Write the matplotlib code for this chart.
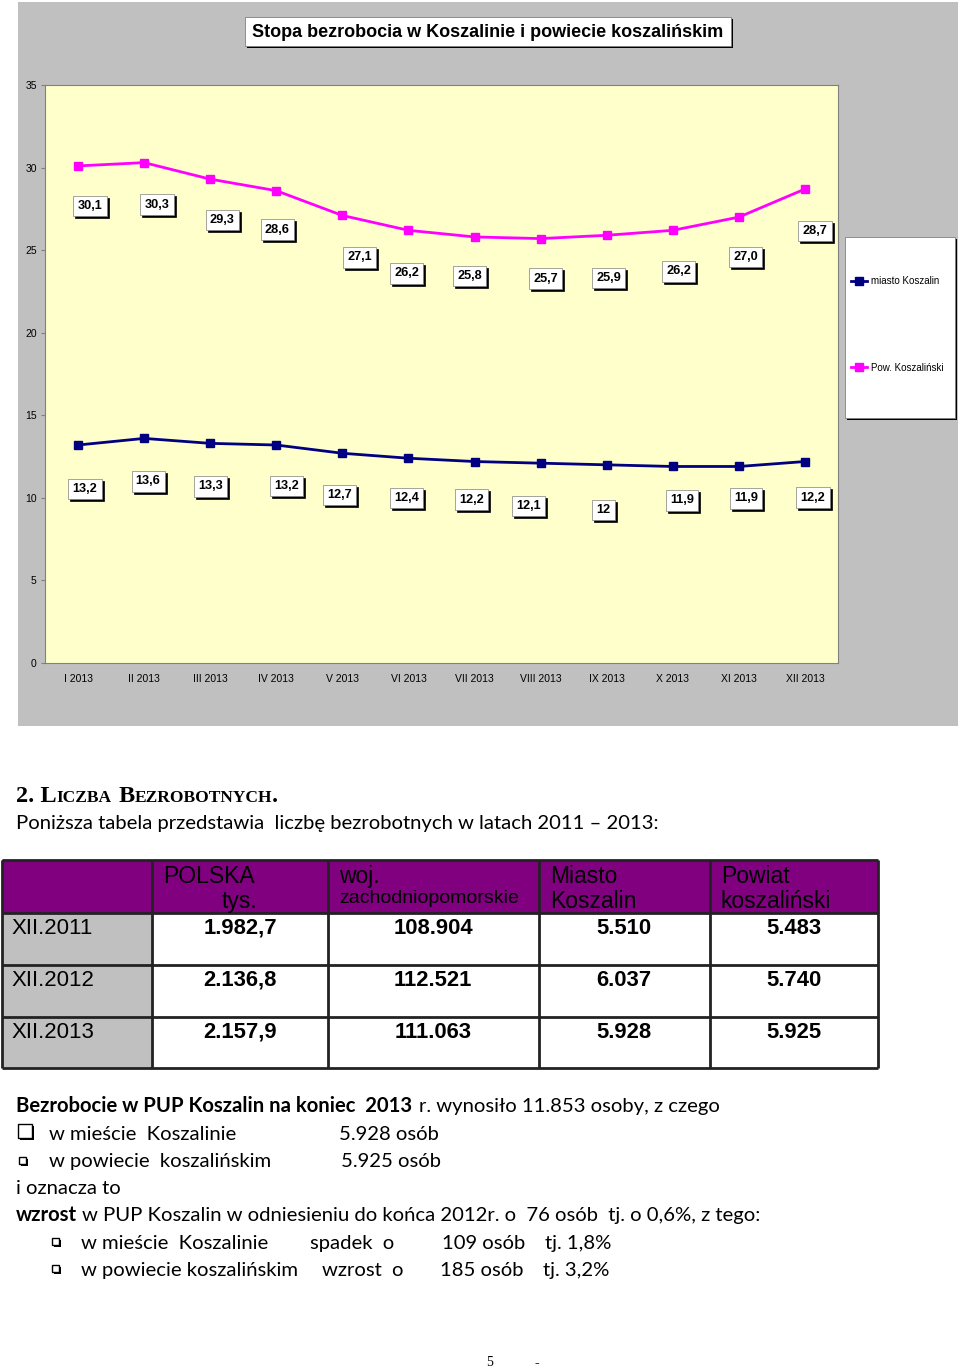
import matplotlib
matplotlib.use("Agg")
import matplotlib.pyplot as plt
from matplotlib.patches import Rectangle
import numpy as np

# chart data
months = ["I 2013", "II 2013", "III 2013", "IV 2013", "V 2013", "VI 2013",
          "VII 2013", "VIII 2013", "IX 2013", "X 2013", "XI 2013", "XII 2013"]
powiat = [30.1, 30.3, 29.3, 28.6, 27.1, 26.2, 25.8, 25.7, 25.9, 26.2, 27.0, 28.7]
miasto = [13.2, 13.6, 13.3, 13.2, 12.7, 12.4, 12.2, 12.1, 12, 11.9, 11.9, 12.2]

# table data
row_labels = ["XII.2011", "XII.2012", "XII.2013"]
polska = ["1.982,7", "2.136,8", "2.157,9"]
woj = ["108.904", "112.521", "111.063"]
miasto_n = ["5.510", "6.037", "5.928"]
powiat_n = ["5.483", "5.740", "5.925"]

# label offsets in pixels (dx, dy down) - placement only
pow_off = [(12, 40), (13, 42), (12, 41), (1, 39), (17, 42), (-2, 43),
           (-5, 39), (5, 40), (2, 43), (6, 41), (7, 40), (10, 42)]
mia_off = [(7, 44), (4, 43), (0, 43), (10, 41), (-3, 42), (-2, 40),
           (-3, 38), (-12, 43), (-3, 45), (9, 34), (7, 32), (8, 36)]

W, H = 960, 1370
SANS = "Liberation Sans"
BODY = "Lato"

fig = plt.figure(figsize=(9.6, 13.7), dpi=100)
page = fig.add_axes([0, 0, 1, 1])
page.set_xlim(0, W)
page.set_ylim(H, 0)
page.axis("off")

# chart background
page.add_patch(Rectangle((18, 2), 940, 724, fc="#c0c0c0", ec="none"))

# title box with shadow
page.add_patch(Rectangle((247, 19), 486, 29, fc="black", ec="none"))
page.add_patch(Rectangle((245, 17), 486, 29, fc="white", ec="#808080", lw=0.6))
page.text(488, 32, "Stopa bezrobocia w Koszalinie i powiecie koszalińskim",
          ha="center", va="center", fontsize=13, fontweight="bold", family=SANS)

# legend box with shadow
page.add_patch(Rectangle((847, 239), 110, 181, fc="black", ec="none"))
page.add_patch(Rectangle((845, 237), 110, 181, fc="white", ec="#808080", lw=0.6))

ax = fig.add_axes([45 / W, 1 - 663 / H, 793 / W, 578 / H])
ax.set_facecolor("#ffffcc")
x = np.arange(len(months))
l_pow, = ax.plot(x, powiat, color="#ff00ff", lw=2, marker="s", ms=6,
                 label="Pow. Koszaliński")
l_mia, = ax.plot(x, miasto, color="#000080", lw=2, marker="s", ms=6,
                 label="miasto Koszalin")
ax.set_xlim(-0.5, 11.5)
ax.set_ylim(0, 35)
ax.set_yticks(range(0, 36, 5))
ax.set_xticks(x, months)
ax.tick_params(length=3, color="#808080", pad=3, labelsize=7.5)
ax.tick_params(axis="x", length=0, pad=8)
for lab in ax.get_xticklabels() + ax.get_yticklabels():
    lab.set_family(SANS)
for sp in ax.spines.values():
    sp.set_color("#808080")
    sp.set_linewidth(0.8)


def boxed(xi, v, off):
    txt = str(v).replace(".", ",")
    dx, dy = off
    for sh, fc in ((2, "black"), (0, "white")):
        ax.annotate(txt, (xi, v), xytext=(dx + sh, -dy - sh),
                    textcoords="offset pixels", ha="center", va="center",
                    fontsize=9.2, fontweight="bold", family=SANS,
                    color="black", annotation_clip=False,
                    bbox=dict(boxstyle="square,pad=0.33", fc=fc,
                              ec="#808080" if fc == "white" else "black", lw=0.5))


for xi, v, o in zip(x, powiat, pow_off):
    boxed(xi, v, o)
for xi, v, o in zip(x, miasto, mia_off):
    boxed(xi, v, o)

leg = ax.legend(handles=[l_mia, l_pow], loc="upper left",
                bbox_to_anchor=(851, 276), bbox_transform=page.transData,
                frameon=False, labelspacing=7.9, borderpad=0,
                handlelength=1.6, handletextpad=0.5, borderaxespad=0,
                prop={"family": SANS, "size": 7})

# section heading with small caps
hx = 16
heading = [("2. L", 17.5), ("ICZBA", 12.5), (" ", 8), ("B", 17.5), ("EZROBOTNYCH", 12.5), (".", 17.5)]
renderer = fig.canvas.get_renderer()
for txt, fs in heading:
    if txt == " ":
        hx += 7
        continue
    t = page.text(hx, 802, txt, fontsize=fs, fontweight="bold",
                  family="Liberation Serif", va="baseline", ha="left")
    hx += t.get_window_extent(renderer).width

page.text(16, 829, "Poniższa tabela przedstawia  liczbę bezrobotnych w latach 2011 – 2013:",
          fontsize=14.6, family=BODY, va="baseline")

# table
ys = [860, 913, 965, 1017, 1068]
xs = [2, 152, 328, 539, 710, 878]
page.add_patch(Rectangle((xs[0], ys[0]), xs[-1] - xs[0], ys[1] - ys[0], fc="#800080", ec="none"))
page.add_patch(Rectangle((xs[0], ys[1]), xs[1] - xs[0], ys[-1] - ys[1], fc="#c0c0c0", ec="none"))
page.hlines(ys, xs[0], xs[-1], color="#222222", lw=2)
page.vlines(xs, ys[0], ys[-1], color="#222222", lw=2)

hdr = dict(fontsize=16.5, family=SANS, va="center", ha="left", color="black")
page.text(163, 876, "POLSKA", **hdr)
page.text(222, 901, "tys.", **hdr)
page.text(339, 876, "woj.", **hdr)
page.text(339, 898, "zachodniopomorskie", fontsize=14, family=SANS, va="center", color="black")
page.text(550, 876, "Miasto", **hdr)
page.text(550, 901, "Koszalin", **hdr)
page.text(721, 876, "Powiat", **hdr)
page.text(721, 901, "koszaliński", **hdr)

centers = [240, 433, 624, 794]
for i, lab in enumerate(row_labels):
    yc = 928 + 52 * i
    page.text(12, yc, lab, fontsize=16, family=SANS, va="center")
    for cx, col in zip(centers, [polska, woj, miasto_n, powiat_n]):
        page.text(cx, yc, col[i], fontsize=15.8, fontweight="bold", family=SANS,
                  va="center", ha="center")

# text block
body = dict(fontsize=14.6, family=BODY, va="baseline")
page.text(16, 1112, "Bezrobocie w PUP Koszalin na koniec  2013", fontweight="bold", **body)
page.text(419, 1112, "r. wynosiło 11.853 osoby, z czego", **body)


def bullet(x0, y0, s):
    page.add_patch(Rectangle((x0 + 2, y0 + 2), s, s, fc="black", ec="none"))
    page.add_patch(Rectangle((x0, y0), s, s, fc="white", ec="black", lw=1))


bullet(18, 1124, 14)
page.text(49, 1140, "w mieście  Koszalinie", **body)
page.text(339, 1140, "5.928 osób", **body)
bullet(19, 1157, 7)
page.text(49, 1167, "w powiecie  koszalińskim", **body)
page.text(341, 1167, "5.925 osób", **body)
page.text(16, 1194, "i oznacza to", **body)
page.text(16, 1221, "wzrost", fontweight="bold", **body)
page.text(82, 1221, "w PUP Koszalin w odniesieniu do końca 2012r. o  76 osób  tj. o 0,6%, z tego:", **body)
bullet(52, 1238, 7)
page.text(81, 1249, "w mieście  Koszalinie", **body)
page.text(310, 1249, "spadek  o", **body)
page.text(442, 1249, "109 osób", **body)
page.text(545, 1249, "tj. 1,8%", **body)
bullet(52, 1265, 7)
page.text(81, 1276, "w powiecie koszalińskim", **body)
page.text(322, 1276, "wzrost  o", **body)
page.text(440, 1276, "185 osób", **body)
page.text(543, 1276, "tj. 3,2%", **body)

page.text(490, 1362, "5", fontsize=10, family="Liberation Serif", ha="center", va="center")
page.text(537, 1364, "-", fontsize=10, fontweight="bold", family="Liberation Serif",
          ha="center", va="center")

fig.savefig("out.png", dpi=100)
